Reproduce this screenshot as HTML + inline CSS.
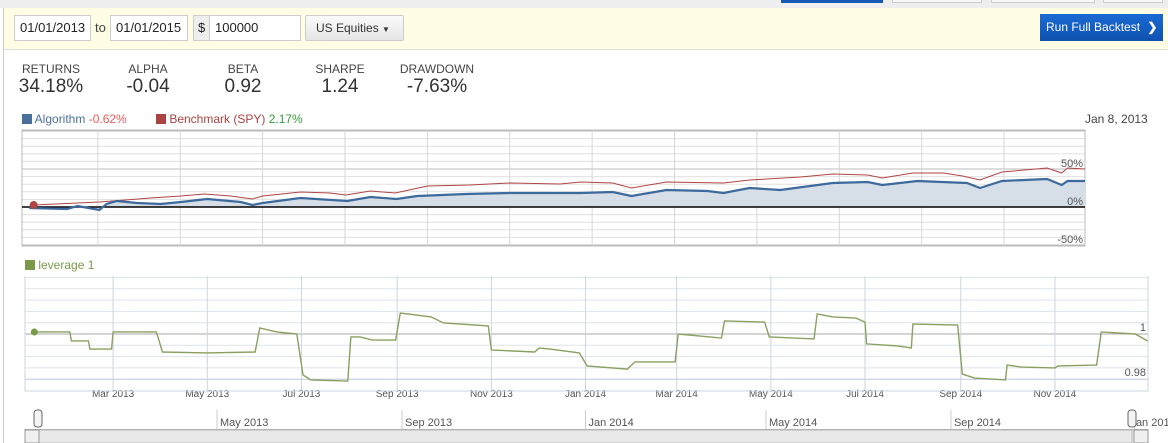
<!DOCTYPE html>
<html><head><meta charset="utf-8">
<style>
*{box-sizing:border-box}
body{margin:0;width:1168px;height:443px;overflow:hidden;background:#fff;font-family:"Liberation Sans",sans-serif;color:#333;position:relative}
.abs{position:absolute}
.inp{position:absolute;border:1px solid #ccc;background:#fff;font-size:13px;line-height:24px;padding-left:5px;color:#222}
.lbl{position:absolute;font-size:12px;color:#444;text-align:center;width:90px}
.val{position:absolute;font-size:19px;color:#333;text-align:center;width:90px}
</style></head><body>
<div class="abs" style="left:0;top:0;width:1168px;height:8px;background:#eee"></div>
<div class="abs" style="left:781px;top:0;width:102px;height:3px;background:#1458b8"></div>
<div class="abs" style="left:892px;top:0;width:90px;height:3px;border:1px solid #ccc;border-top:none;background:#f8f8f8"></div>
<div class="abs" style="left:991px;top:0;width:104px;height:3px;border:1px solid #ccc;border-top:none;background:#f8f8f8"></div>
<div class="abs" style="left:1103px;top:0;width:60px;height:3px;border:1px solid #ccc;border-top:none;background:#f8f8f8"></div>
<div class="abs" style="left:3px;top:8px;width:1px;height:435px;background:#ccc"></div>
<div class="abs" style="left:4px;top:8px;width:1164px;height:42px;background:#fffde3;border-bottom:1px solid #ddd"></div>
<div class="inp" style="left:14px;top:15px;width:77px;height:26px">01/01/2013</div>
<div class="abs" style="left:95px;top:20px;font-size:13px;color:#444">to</div>
<div class="inp" style="left:110px;top:15px;width:78px;height:26px">01/01/2015</div>
<div class="inp" style="left:193px;top:15px;width:17px;height:26px;background:#eee;padding-left:4px">$</div>
<div class="inp" style="left:209px;top:15px;width:92px;height:26px">100000</div>
<div class="abs" style="left:305px;top:15px;width:99px;height:26px;border:1px solid #ccc;border-radius:2px;background:linear-gradient(#fafafa,#e6e6e6);font-size:12px;line-height:24px;padding-left:10px;color:#333">US Equities <span style="font-size:8px">&#9660;</span></div>
<div class="abs" style="left:1040px;top:14px;width:123px;height:27px;background:linear-gradient(#1a6ad4,#0f52b0);color:#fff;font-size:12px;line-height:27px;padding-left:6px">Run Full Backtest <b style="margin-left:4px">&#10095;</b></div>

<div class="lbl" style="left:6px;top:62px">RETURNS</div>
<div class="val" style="left:6px;top:76px">34.18%</div>
<div class="lbl" style="left:103px;top:62px">ALPHA</div>
<div class="val" style="left:103px;top:76px">-0.04</div>
<div class="lbl" style="left:198px;top:62px">BETA</div>
<div class="val" style="left:198px;top:76px">0.92</div>
<div class="lbl" style="left:295px;top:62px">SHARPE</div>
<div class="val" style="left:295px;top:76px">1.24</div>
<div class="lbl" style="left:392px;top:62px">DRAWDOWN</div>
<div class="val" style="left:392px;top:76px">-7.63%</div>

<div class="abs" style="left:22px;top:112px;font-size:12px;color:#4a6f9a"><span style="display:inline-block;width:10px;height:10px;background:#4a6f9a;vertical-align:-1px"></span> Algorithm <span style="color:#e35a5a">-0.62%</span></div>
<div class="abs" style="left:156px;top:112px;font-size:12px;color:#a94442"><span style="display:inline-block;width:10px;height:10px;background:#a94442;vertical-align:-1px"></span> Benchmark (SPY) <span style="color:#3a9a3a">2.17%</span></div>
<div class="abs" style="left:1085px;top:112px;font-size:12px;color:#444">Jan 8, 2013</div>
<div class="abs" style="left:25px;top:258px;font-size:12px;color:#7a9a4a"><span style="display:inline-block;width:10px;height:10px;background:#7a9a4a;vertical-align:-1px"></span> leverage 1</div>

<svg class="abs" style="left:0;top:0" width="1168" height="443">
<g id="g1"></g><g id="g2"></g><g id="g3"></g>
</svg>
<script>
const benchDays=[8,53,88,109,125,143,158,165,191,211,222,239,256,278,307,335,369,383,405,418,442,481,499,534,556,580,590,611,632,645,657,672,703,713,717,729];
const benchVals=[2.6,6.6,11.8,14.5,17.1,14.5,10.5,14.5,19.7,18.4,15.8,21,18.4,27.6,29,31.6,30.3,32.9,31.6,25,32.9,31.6,35.5,39.5,43.4,42.1,38.2,44.7,44.7,40.8,35.5,46,51.3,44.7,51.3,50];
const algoDays=[5,31,38,53,58,65,79,95,109,127,150,158,165,191,223,239,257,271,305,335,344,383,405,418,442,470,481,499,520,556,580,590,614,648,657,672,703,713,717,729];
const algoVals=[-1.3,-2.6,1.3,-3.9,3.9,7.9,5.3,3.9,6.6,10.5,6.6,2.6,5.3,11.8,7.9,13.2,10.5,14.5,17.1,18.4,18.4,18.4,19.7,14.5,22.4,21,18.4,25,22.4,31.6,32.9,28.9,34.2,31.6,25,34.2,36.8,28.9,34.2,34.2];
const retTicks=[-50,0,50];
const retTickLabels=["-50%","0%","50%"];
const levDays=[8,31,32,43,44,58,59,87,91,120,151,154,165,178,182,187,211,213,219,227,242,245,265,273,302,304,332,335,342,361,366,392,397,423,425,453,455,481,484,513,515,525,540,546,547,567,576,577,606,609,617,637,638,647,669,671,696,699,721,729];
const levVals=[1.0009,1.0009,0.9969,0.9969,0.9933,0.9933,1.0009,1.0009,0.992,0.9916,0.992,1.0027,1.0009,1.0,0.9818,0.9796,0.9791,0.9987,0.9987,0.9973,0.9973,1.0093,1.0076,1.0049,1.0036,0.9929,0.992,0.9938,0.9933,0.9916,0.9858,0.9844,0.9876,0.9876,1.0,0.9982,1.0058,1.0053,0.9987,0.9978,1.0089,1.0076,1.0071,1.0053,0.9956,0.9947,0.9938,1.0044,1.004,0.9822,0.9804,0.9796,0.9862,0.9853,0.9849,0.9858,0.9862,1.0009,1.0,0.9969];
const levTicks=[0.98,1];
const monthLabels=["Mar 2013","May 2013","Jul 2013","Sep 2013","Nov 2013","Jan 2014","Mar 2014","May 2014","Jul 2014","Sep 2014","Nov 2014"];
const monthDays=[59,120,181,243,304,365,424,485,546,608,669];
const navLabels=["May 2013","Sep 2013","Jan 2014","May 2014","Sep 2014","Jan 2015"];
const navDays=[120,243,365,485,608,730];

const NS="http://www.w3.org/2000/svg";
function mk(p,t,a){const e=document.createElementNS(NS,t);for(const k in a)e.setAttribute(k,a[k]);p.appendChild(e);return e;}
const x1=d=>22+d*1063/729, y1=v=>207-v*0.76;
const g1=document.getElementById('g1');
for(let v=-50;v<=100;v+=10){const l=mk(g1,'line',{x1:22,x2:1085,y1:y1(v),y2:y1(v),stroke:v%50===0?'#bbb':'#e0e0e0'});

}
for(let d=52;d<729;d+=56.5){const l=mk(g1,'line',{x1:x1(d),x2:x1(d),y1:130,y2:246,stroke:'#d6d6d6'});

}
const fr=mk(g1,'rect',{x:22,y:130,width:1063,height:116,fill:'none',stroke:'#bbb'});


let ap=algoDays.map((d,i)=>x1(d).toFixed(1)+','+y1(algoVals[i]).toFixed(1));
const area=mk(g1,'path',{d:'M'+x1(algoDays[0])+','+y1(0)+' L'+ap.join(' L')+' L'+x1(729)+','+y1(0)+'Z',fill:'#d6dee8'});


const zl=mk(g1,'line',{x1:22,x2:1085,y1:y1(0),y2:y1(0),stroke:'#000','stroke-width':1.5});


const bl=mk(g1,'polyline',{points:benchDays.map((d,i)=>x1(d)+','+y1(benchVals[i])).join(' '),fill:'none',stroke:'#b04545','stroke-width':1});


const al=mk(g1,'polyline',{points:ap.join(' '),fill:'none',stroke:'#3d6a9c','stroke-width':2.2});


const dot=mk(g1,'circle',{cx:x1(8),cy:y1(2.6),r:4,fill:'#b04545'});


retTicks.forEach((v,i)=>{const t=mk(g1,'text',{x:1083,y:y1(v)-2,'text-anchor':'end','font-size':11,fill:'#555'});t.textContent=retTickLabels[i];

});
const x2=d=>22+d*1.544, y2=v=>334-(v-1)*2250;
const g2=document.getElementById('g2');
for(let k=-9;k<=5;k++){const y=334+k*11.3;if(y<277||y>390)continue;const l=mk(g2,'line',{x1:25,x2:1148,y1:y,y2:y,stroke:k===0?'#aaa':(k===4?'#b8c8dc':'#dde3ea')});

}
monthDays.forEach((d,i)=>{const l=mk(g2,'line',{x1:x2(d),x2:x2(d),y1:276,y2:391,stroke:'#ccd5df'});


const t=mk(g2,'text',{x:x2(d),y:397,'text-anchor':'middle','font-size':10,fill:'#555'});t.textContent=monthLabels[i];

});
const f2=mk(g2,'path',{d:'M25,276 V391 H1148 V276',fill:'none',stroke:'#ccd5df'});


const ll=mk(g2,'polyline',{points:levDays.map((d,i)=>x2(d)+','+y2(levVals[i])).join(' '),fill:'none',stroke:'#8aa060','stroke-width':1.4});


const d2=mk(g2,'circle',{cx:x2(8),cy:y2(levVals[0]),r:3.5,fill:'#7a9a4a'});


levTicks.forEach(v=>{const t=mk(g2,'text',{x:1146,y:y2(v)-3,'text-anchor':'end','font-size':11,fill:'#555'});t.textContent=String(v);

});
const g3=document.getElementById('g3');
const xn=d=>217+(d-120)*1.504;
navDays.forEach((d,i)=>{const x=xn(d);const l=mk(g3,'line',{x1:x,x2:x,y1:410,y2:429,stroke:'#ccc'});


const t=mk(g3,'text',{x:i===navDays.length-1?x-4:x+3,y:426,'font-size':11,fill:'#555'});t.textContent=navLabels[i];

});
const sb=mk(g3,'rect',{x:25,y:429.5,width:1123,height:14,fill:'#ececec',stroke:'#aaa'});


const th=mk(g3,'rect',{x:39,y:430,width:1093,height:13,fill:'#e8e8e8',stroke:'#bbb'});


[25,1134].forEach(x=>{const b=mk(g3,'rect',{x:x,y:430,width:14,height:13,fill:'#f0f0f0',stroke:'#999'});

});
[38,1132].forEach(x=>{const h=mk(g3,'rect',{x:x-4,y:410,width:8,height:17,rx:3,fill:'#f4f4f4',stroke:'#666'});

});
</script>
</body></html>
